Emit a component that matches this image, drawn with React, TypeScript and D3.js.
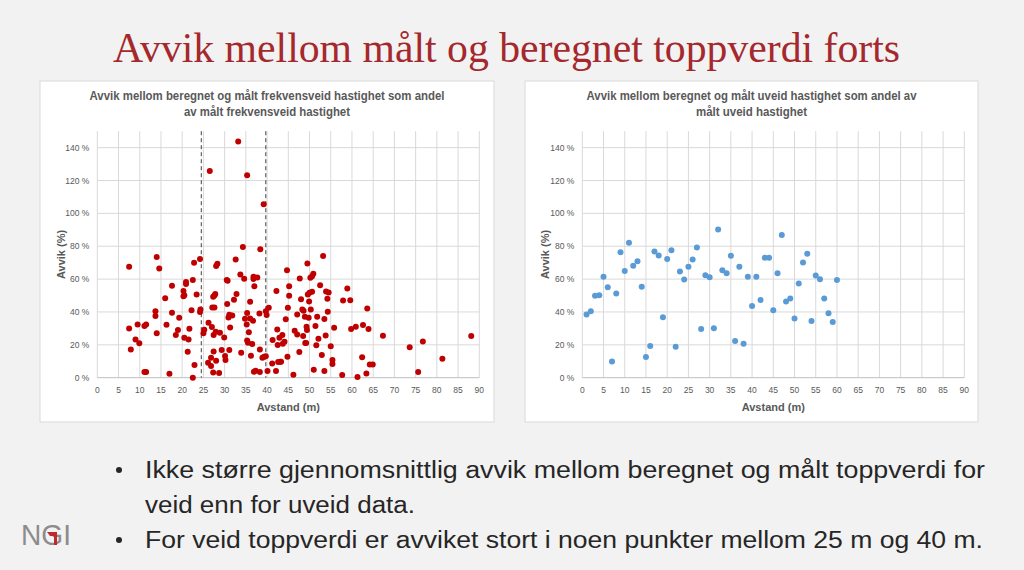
import React from "react";
import * as d3 from "d3";

// ---- Data ----
const leftX = [7.5,7.5,7.9,9,9.5,9.9,11.1,11.5,11.1,11.5,13.7,13.7,14,14,14.6,16,16.3,17,17.6,17.6,18.5,19,19.3,20.3,20.3,20.5,20.9,20.9,20.5,21.3,21.5,21.7,22.2,22.5,22.5,22.8,22.9,23.4,24.2,24.2,24.3,25,25.2,26.1,26.2,26.5,26.8,26.8,27,27.1,27.3,27.3,27.4,27.4,27.6,27.6,27.8,27.9,28,28.3,28,28.7,28.9,29.3,29.9,30.1,30.2,30.5,30.7,30.6,30.9,31.1,31.1,31.3,31.8,32.2,32.6,32.8,33.2,33.7,33.9,34.3,34.6,34.8,35.3,35.2,35.3,35.3,35.5,35.7,36,36,36.2,36.5,36.7,36.8,36.8,37,36.9,37.3,37.7,38.2,38.3,38.3,38.4,38.9,39.2,39.3,39.7,39.7,39.9,40.1,40.4,41.2,41.3,42.1,42.2,42.4,42.5,42.6,42.9,43.1,43.3,43.6,43.7,44.1,44.4,44.7,44.9,44.8,45.2,45.2,46.2,46.5,47.1,47.1,47.6,47.7,48,48.3,48.6,48.5,48.9,49,49.2,49.3,49.4,49.5,49.6,49.8,49.9,50,50.2,50.3,50.6,50.6,50.9,51,51.4,51.6,51.8,52.1,52.5,52.9,53.2,53.5,53.5,53.8,53.9,54.2,54.5,54.3,55,55.4,55.4,55.8,57.7,57.9,58.9,59.6,59.8,60.9,61.3,62.4,62.6,63.4,63.6,63.9,64.2,64.9,67.3,73.6,75.6,76.7,81.3,88.1];
const leftY = [67.5,30,17.2,23.3,32.4,21,31.4,32.4,3.4,3.4,37.5,40.5,73.5,27,66.5,48.4,32.2,2.4,56,39.5,26,29,36.5,52.7,49.6,50.2,57,58.3,24.3,15.8,23.3,29.8,41.1,59.4,0,70,7.7,50.6,72.3,40,41.5,27,29.2,9.1,33.4,125.8,7.1,12.2,30.8,42.7,49.2,3.2,16,26,42.7,50,51,28,67.9,69.3,10.3,2.8,27.4,16.8,24.5,13.2,10.7,59.4,59,44.8,36.7,38.3,16.8,30.6,37.9,47.4,71.9,50.9,143.8,62.8,15.2,79.6,60.2,35.9,39.3,32.4,123.2,22.7,21.3,27.6,46.2,36.1,13.4,20.5,34.6,61.4,60,55.7,3.6,4.3,61,39.1,3.4,17.2,78.2,12.2,105.6,12.8,13,40.5,38.1,4.1,42.5,8.7,22.9,4.1,52.7,29.4,19.9,9.5,24.3,9.7,9.7,26,20.7,21.9,35.5,65.4,42.5,12.8,55.7,49.8,1.8,28.6,38.5,26.3,15.6,60.4,47.8,41.5,40.7,25.3,37.1,21.1,21.1,31,29,69.5,50.6,36.5,46.4,51.7,60.8,41.5,52.3,61.8,63.2,4.9,31.4,19.7,37.1,23.7,56.3,13.8,74.1,35.7,4.1,25.7,52.5,48,51.9,40.1,19.2,10.7,8.3,30.4,1.6,47,54.3,47.2,29.6,31,0.4,12.4,32,2.6,42.1,29.6,8.1,8.1,25.5,18.6,3.4,22.1,11.5,25.3];

const rightX = [1,2,3,4,5,6,7,8,9,10,11,12,13,14,15,16,17,18,19,20,21,22,23,24,25,26,27,28,29,30,31,32,33,34,35,36,37,38,39,40,41,42,43,44,45,46,47,48,49,50,51,52,53,54,55,56,57,58,59,60];
const rightY = [38.4,40.4,49.8,50.2,61.4,55.1,9.8,51.2,76.4,65,82.1,68.1,70.9,55.3,12.6,19.3,76.8,74.4,36.8,72.3,77.6,18.9,64.6,59.7,67.5,71.9,79.3,29.7,62.4,61.2,30.1,90.2,65.4,63.6,74.2,22.4,67.5,20.7,61.4,43.7,61.4,47.3,73,73,41,63.6,86.8,46.3,48.2,36,57.3,70.1,75.4,34.5,62.2,59.9,48.2,39.2,33.9,59.5];

const xTicks = [0,5,10,15,20,25,30,35,40,45,50,55,60,65,70,75,80,85,90];
const yTicks = [0,20,40,60,80,100,120,140];
const dashedLines = [24.5, 39.7];

const slideTitle = "Avvik mellom målt og beregnet toppverdi forts";
const leftTitle = ["Avvik mellom beregnet og målt frekvensveid hastighet som andel", "av målt frekvensveid hastighet"];
const rightTitle = ["Avvik mellom beregnet og målt uveid hastighet som andel av", "målt uveid hastighet"];
const bullets = [
  ["Ikke større gjennomsnittlig avvik mellom beregnet og målt toppverdi for", "veid enn for uveid data."],
  ["For veid toppverdi er avviket stort i noen punkter mellom 25 m og 40 m."],
];

const SANS = "'Liberation Sans', Arial, sans-serif";

type ChartProps = {
  panel: { x: number; y: number; w: number; h: number };
  plot: { x0: number; x1: number; y0: number; y1: number };
  title: string[];
  titleWidths: number[];
  xs: number[];
  ys: number[];
  color: string;
  dashed?: number[];
  yTitleX: number;
};

function Chart({ panel, plot, title, titleWidths, xs, ys, color, dashed, yTitleX }: ChartProps) {
  const x = d3.scaleLinear().domain([0, 90]).range([plot.x0, plot.x1]);
  const y = d3.scaleLinear().domain([0, 150]).range([plot.y0, plot.y1]);
  const cx = (plot.x0 + plot.x1) / 2;
  const titleCx = panel.x + panel.w / 2;
  return (
    <g>
      <rect x={panel.x} y={panel.y} width={panel.w} height={panel.h} fill="#ffffff" stroke="#d9d9d9" strokeWidth={1} />
      {title.map((t, i) => (
        <text key={i} x={titleCx} y={panel.y + 19 + i * 16} textAnchor="middle" fontFamily={SANS} fontWeight="bold" fontSize={12} fill="#595959" textLength={titleWidths[i]} lengthAdjust="spacingAndGlyphs">{t}</text>
      ))}
      {/* gridlines */}
      {xTicks.map((t) => (
        <line key={"vx" + t} x1={x(t)} x2={x(t)} y1={y(150)} y2={y(0)} stroke="#d9d9d9" strokeWidth={1} />
      ))}
      {yTicks.map((t) => (
        <line key={"hy" + t} x1={x(0)} x2={x(90)} y1={y(t)} y2={y(t)} stroke={t === 0 ? "#bfbfbf" : "#d9d9d9"} strokeWidth={1} />
      ))}
      {yTicks.map((t) => (
        <text key={"yl" + t} x={x(0) - 8} y={y(t) + 3} textAnchor="end" fontFamily={SANS} fontSize={8.5} fill="#595959">{t} %</text>
      ))}
      {xTicks.map((t) => (
        <text key={"xl" + t} x={x(t)} y={y(0) + 15} textAnchor="middle" fontFamily={SANS} fontSize={8.5} fill="#595959">{t}</text>
      ))}
      {(dashed || []).map((d) => (
        <line key={"d" + d} x1={x(d)} x2={x(d)} y1={y(150)} y2={y(0)} stroke="#404040" strokeWidth={1} strokeDasharray="4,3" />
      ))}
      {xs.map((v, i) => (
        <circle key={i} cx={x(v)} cy={y(ys[i])} r={3} fill={color} />
      ))}
      <text x={cx} y={y(0) + 33} textAnchor="middle" fontFamily={SANS} fontWeight="bold" fontSize={11} fill="#595959">Avstand (m)</text>
      <text transform={`translate(${yTitleX},${(y(0) + y(150)) / 2}) rotate(-90)`} textAnchor="middle" fontFamily={SANS} fontWeight="bold" fontSize={11} fill="#595959">Avvik (%)</text>
    </g>
  );
}

export default function App() {
  return (
    <div style={{ position: "fixed", left: 0, top: 0 }}>
      <svg width={1024} height={570} style={{ display: "block" }}>
        <rect x={0} y={0} width={1024} height={570} fill="#f2f2f2" />
        <text x={506.5} y={62} textAnchor="middle" fontFamily="'Liberation Serif', 'Times New Roman', serif" fontSize={42} fill="#a5282c" textLength={787} lengthAdjust="spacingAndGlyphs">{slideTitle}</text>
        <Chart
          panel={{ x: 40, y: 81, w: 454, h: 341 }}
          plot={{ x0: 97.3, x1: 479.3, y0: 377.7, y1: 131.2 }}
          title={leftTitle}
          titleWidths={[355, 166]}
          xs={leftX}
          ys={leftY}
          color="#c00000"
          dashed={dashedLines}
          yTitleX={64.5}
        />
        <Chart
          panel={{ x: 525, y: 81, w: 453, h: 341 }}
          plot={{ x0: 582.3, x1: 964.3, y0: 377.7, y1: 131.2 }}
          title={rightTitle}
          titleWidths={[330, 111]}
          xs={rightX}
          ys={rightY}
          color="#5b9bd5"
          yTitleX={549}
        />
        {/* bullets */}
        <circle cx={119} cy={470} r={3} fill="#262626" />
        <text x={145} y={478} fontFamily={SANS} fontSize={23} fill="#262626" textLength={840} lengthAdjust="spacingAndGlyphs">{bullets[0][0]}</text>
        <text x={145} y={513} fontFamily={SANS} fontSize={23} fill="#262626" textLength={270} lengthAdjust="spacingAndGlyphs">{bullets[0][1]}</text>
        <circle cx={119} cy={540} r={3} fill="#262626" />
        <text x={145} y={548} fontFamily={SANS} fontSize={23} fill="#262626" textLength={838} lengthAdjust="spacingAndGlyphs">{bullets[1][0]}</text>
        {/* NGI logo */}
        <g>
          <text x={21} y={545} fontFamily={SANS} fontSize={29} fill="#8c8c8c" textLength={50} lengthAdjust="spacingAndGlyphs">NGI</text>
          <path d="M47,532 L57,532 L57,545 L54,545 L54,536 L50,536 Z" fill="#c0282e" />
        </g>
      </svg>
    </div>
  );
}
